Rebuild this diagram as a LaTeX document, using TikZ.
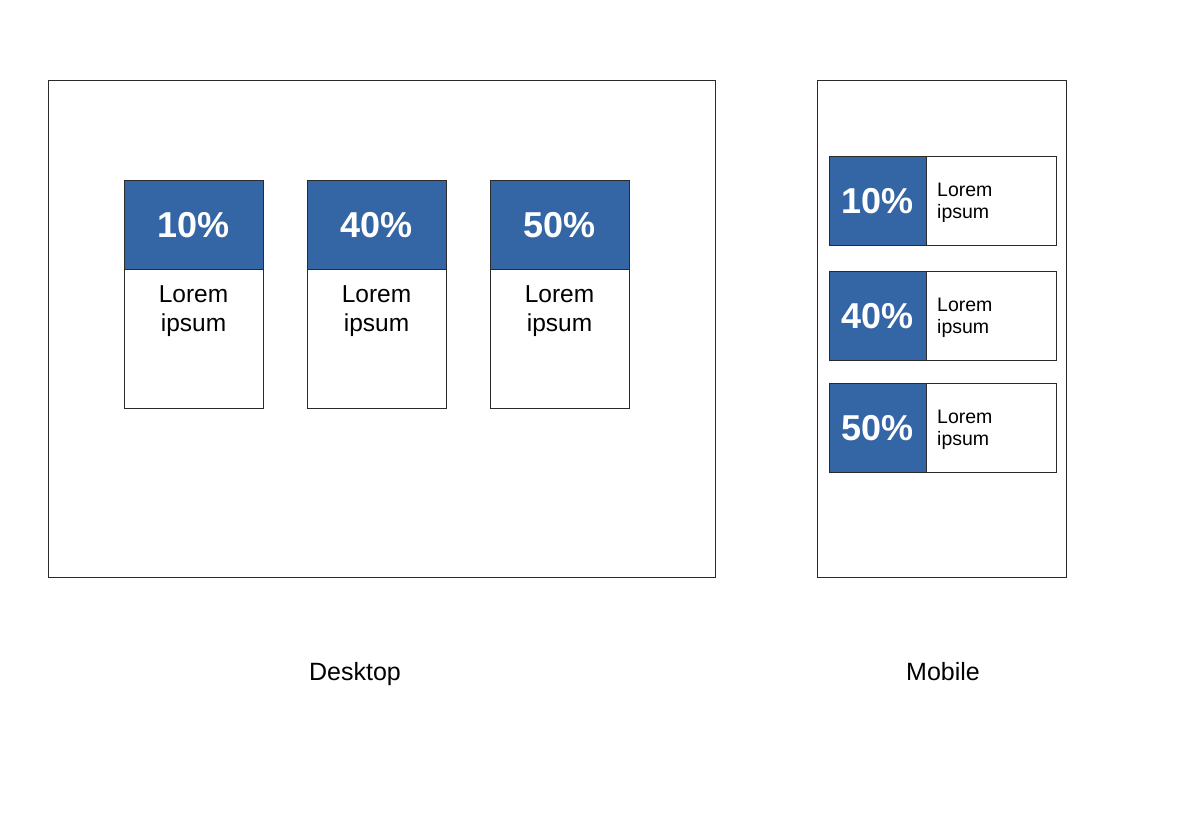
\documentclass[tikz,border=0pt]{standalone}
\usepackage{fontspec}
\setmainfont{Liberation Sans}
\definecolor{cardblue}{HTML}{3465A4}
\definecolor{edge}{HTML}{2B2B2B}
\begin{document}
\begin{tikzpicture}[x=1pt,y=-1pt,
  frame/.style={draw=edge,line width=0.8pt,fill=white},
  bluebox/.style={draw=edge,line width=0.8pt,fill=cardblue,text=white,inner sep=0pt,
    font=\fontsize{36}{40}\selectfont\bfseries},
  whitebox/.style={draw=edge,line width=0.8pt,fill=white,inner sep=0pt},
  dtext/.style={inner sep=0pt,align=center,font=\fontsize{24.5}{29}\selectfont},
  mtext/.style={inner sep=0pt,align=left,font=\fontsize{19.5}{22}\selectfont},
  caption/.style={inner sep=0pt,font=\fontsize{25}{30}\selectfont}]
\useasboundingbox (0,0) rectangle (1183,836);
% frames
\draw[frame] (48,80) rectangle (715,577);
\draw[frame] (817,80) rectangle (1066,577);
% desktop cards
\foreach \x/\p/\n in {124/10/a,307/40/b,490/50/c}{
  \draw[whitebox] (\x,269) rectangle (\x+139,408);
  \node[bluebox,minimum width=139pt,minimum height=89pt,anchor=north west] (d\n) at (\x,180) {\p\%};
  \node[dtext,anchor=north] (dt\n) at (\x+69.5,285.5) {Lorem\\ipsum};
}
% mobile cards
\foreach \y/\p/\n in {156/10/a,271/40/b,383/50/c}{
  \draw[whitebox] (829,\y) rectangle (1056,\y+89);
  \node[bluebox,minimum width=97pt,minimum height=89pt,anchor=north west] (m\n) at (829,\y) {\p\%};
  \node[mtext,anchor=north west] (mt\n) at (937,\y+27) {Lorem\\ipsum};
}
\node[caption,anchor=base] (desk) at (355,680) {Desktop};
\node[caption,anchor=base] (mob) at (943,680) {Mobile};
\end{tikzpicture}
\end{document}
